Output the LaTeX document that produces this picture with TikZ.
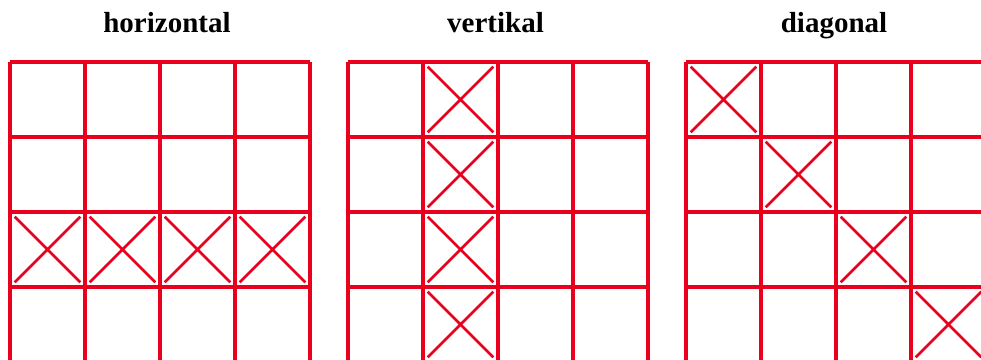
\documentclass[tikz,border=0pt]{standalone}
\usepackage{fontspec}
\setmainfont{Liberation Serif}
\usetikzlibrary{shapes.misc}
\definecolor{gridred}{RGB}{232,0,28}

\begin{document}
\begin{tikzpicture}[
    board/.style={
        gridred,
        line width=2.2pt
    },
    crossed/.style={
        cross out,
        draw=gridred,
        line width=1.5pt,
        inner sep=0pt,
        minimum size=1.26cm
    },
    title/.style={
        anchor=base,
        font=\fontsize{16.5}{20}\selectfont\bfseries
    }
]

\useasboundingbox (0,0) rectangle (19.62,7.2);
\clip (0,0) rectangle (19.62,7.2);

% Titles
\node[title] (hor) at (3.34,6.54) {horizontal};
\node[title] (ver) at (9.91,6.54) {vertikal};
\node[title] (dia) at (16.68,6.54) {diagonal};

% Boards
\draw[board, shift={(0.2,-0.04)}] (0,0) grid[step=1.5] (6,6);
\draw[board, shift={(6.96,-0.04)}] (0,0) grid[step=1.5] (6,6);
\draw[board, shift={(13.72,-0.04)}] (0,0) grid[step=1.5] (6,6);

% horizontal
\node[crossed] (h1) at (0.95,2.21) {};
\node[crossed] (h2) at (2.45,2.21) {};
\node[crossed] (h3) at (3.95,2.21) {};
\node[crossed] (h4) at (5.45,2.21) {};

% vertikal
\node[crossed] (v1) at (9.21,5.21) {};
\node[crossed] (v2) at (9.21,3.71) {};
\node[crossed] (v3) at (9.21,2.21) {};
\node[crossed] (v4) at (9.21,0.71) {};

% diagonal
\node[crossed] (d1) at (14.47,5.21) {};
\node[crossed] (d2) at (15.97,3.71) {};
\node[crossed] (d3) at (17.47,2.21) {};
\node[crossed] (d4) at (18.97,0.71) {};

\end{tikzpicture}
\end{document}
